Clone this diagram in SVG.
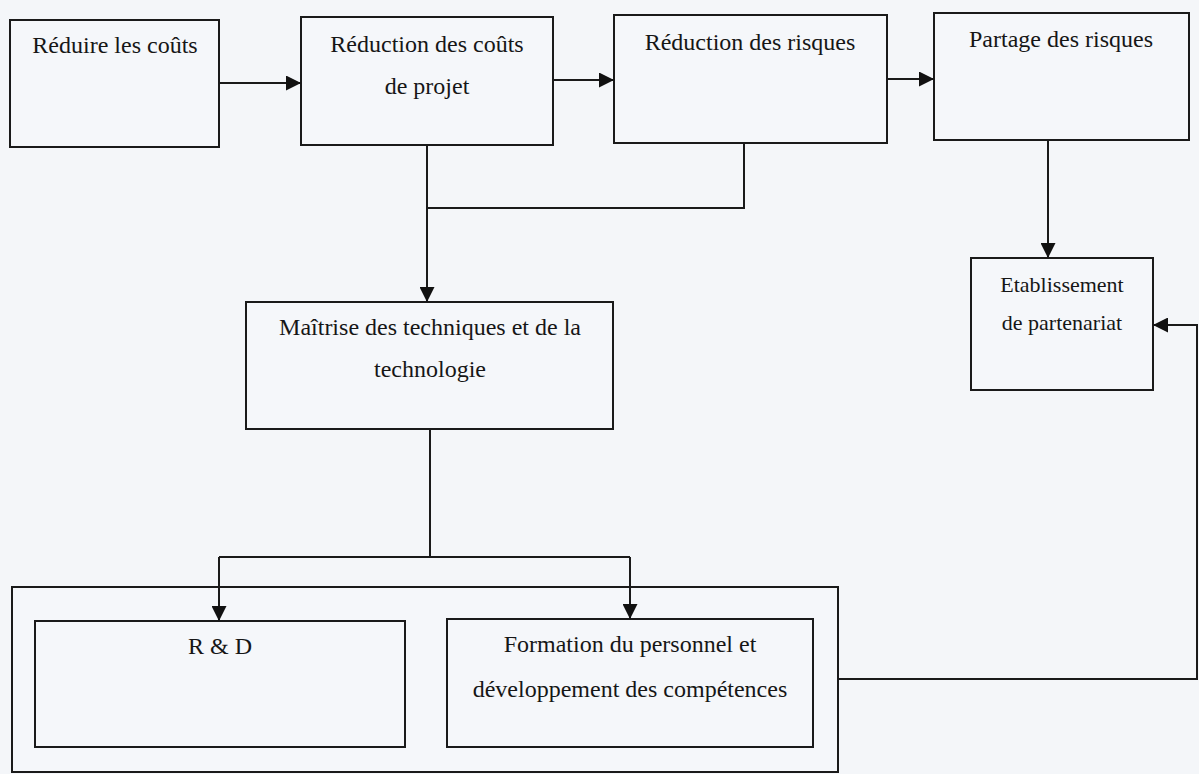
<svg xmlns="http://www.w3.org/2000/svg" width="1199" height="774" viewBox="0 0 1199 774">
  <style>
    .box { fill: #f5f7fa; stroke: #1a1a1a; stroke-width: 2; }
    .lbl { font-family: "Liberation Serif", "Times New Roman", serif; font-size: 24px; fill: #161616; text-anchor: middle; }
    .sm { font-size: 22px; }
    .edge { fill: none; stroke: #1a1a1a; stroke-width: 2; }
  </style>
  <defs>
    <marker id="arrow" markerUnits="userSpaceOnUse" markerWidth="16" markerHeight="15" refX="15" refY="7.5" orient="auto">
      <path d="M0,0 L15,7.5 L0,15 Z" fill="#111"/>
    </marker>
  </defs>

  <rect x="0" y="0" width="1199" height="774" fill="#f4f6f9"/>

  <!-- outer container holding R & D and training -->
  <g id="container">
    <rect class="box" x="12" y="587" width="826" height="185"/>
  </g>

  <g id="reduire">
    <rect class="box" x="10" y="20" width="209" height="127"/>
    <text class="lbl" x="115" y="53">Réduire les coûts</text>
  </g>

  <g id="reduction-couts">
    <rect class="box" x="301" y="17" width="252" height="128"/>
    <text class="lbl" x="427" y="52">Réduction des coûts</text>
    <text class="lbl" x="427" y="94">de projet</text>
  </g>

  <g id="reduction-risques">
    <rect class="box" x="614" y="15" width="273" height="128"/>
    <text class="lbl" x="750" y="50">Réduction des risques</text>
  </g>

  <g id="partage-risques">
    <rect class="box" x="934" y="13" width="255" height="127"/>
    <text class="lbl" x="1061" y="47">Partage des risques</text>
  </g>

  <g id="maitrise">
    <rect class="box" x="246" y="302" width="367" height="127"/>
    <text class="lbl" x="430" y="335">Maîtrise des techniques et de la</text>
    <text class="lbl" x="430" y="377">technologie</text>
  </g>

  <g id="partenariat">
    <rect class="box" x="971" y="258" width="182" height="132"/>
    <text class="lbl sm" x="1062" y="292">Etablissement</text>
    <text class="lbl sm" x="1062" y="330">de partenariat</text>
  </g>

  <g id="rd">
    <rect class="box" x="35" y="621" width="370" height="126"/>
    <text class="lbl" x="220" y="654">R &amp; D</text>
  </g>

  <g id="formation">
    <rect class="box" x="447" y="619" width="366" height="128"/>
    <text class="lbl" x="630" y="652">Formation du personnel et</text>
    <text class="lbl" x="630" y="697">développement des compétences</text>
  </g>

  <g id="connectors">
    <path class="edge" d="M219,83 H301" marker-end="url(#arrow)"/>
    <path class="edge" d="M553,80 H614" marker-end="url(#arrow)"/>
    <path class="edge" d="M887,79 H934" marker-end="url(#arrow)"/>
    <path class="edge" d="M427,145 V302" marker-end="url(#arrow)"/>
    <path class="edge" d="M744,143 V208 H427"/>
    <path class="edge" d="M1048,140 V258" marker-end="url(#arrow)"/>
    <path class="edge" d="M430,429 V557"/>
    <path class="edge" d="M219,557 H630"/>
    <path class="edge" d="M219,557 V621" marker-end="url(#arrow)"/>
    <path class="edge" d="M630,557 V619" marker-end="url(#arrow)"/>
    <path class="edge" d="M838,679 H1197 V325 H1153" marker-end="url(#arrow)"/>
  </g>
</svg>
